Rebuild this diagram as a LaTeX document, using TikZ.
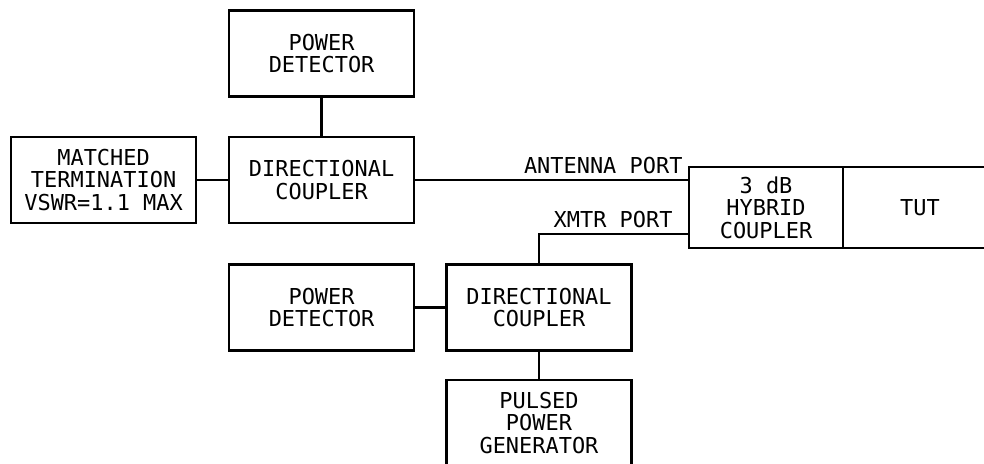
\documentclass[tikz,border=0pt]{standalone}
\usepackage{fontspec}
\setmonofont{DejaVu Sans Mono}
\usepackage{tikz}
\usetikzlibrary{positioning}

\begin{document}
\begin{tikzpicture}[
  every node/.style={font=\fontsize{15.6}{16}\selectfont\ttfamily},
  blk/.style={draw,line width=1.6pt,inner sep=0pt,outer sep=0pt,
              minimum width=4.625cm,minimum height=2.15cm,align=center},
  hyb/.style={blk,minimum width=3.85cm,minimum height=2.025cm},
  line width=1.6pt,
]
  \useasboundingbox (0,0) rectangle (24.6,-11.575);

  \node[blk] (pdtop) at (8.04,-1.34)   {POWER\\DETECTOR};
  \node[blk] (dctop) at (8.04,-4.5)    {DIRECTIONAL\\COUPLER};
  \node[blk] (term)  at (2.59,-4.5)    {MATCHED\\TERMINATION\\VSWR=1.1 MAX};
  \node[hyb] (hyb)   at (19.15,-5.19)  {3 dB\\HYBRID\\COUPLER};
  \node[hyb] (tut)   at (23.0,-5.19)   {TUT};
  \node[blk] (dcbot) at (13.475,-7.69) {DIRECTIONAL\\COUPLER};
  \node[blk] (pdbot) at (8.04,-7.69)   {POWER\\DETECTOR};
  \node[blk] (gen)   at (13.475,-10.575) {PULSED\\POWER\\GENERATOR};

  \tikzset{lb/.style={inner sep=1pt}}
  \coordinate (ant) at (dctop.east -| hyb.west);
  \coordinate (xmtr) at ([yshift=0.35cm]hyb.south west);

  \draw (term) -- (dctop);
  \draw (pdtop) -- (dctop);
  \draw (dctop) -- (ant);
  \node[lb,above left=0.1cm and 0.1cm of ant] (antlbl) {ANTENNA PORT};
  \draw (dcbot.north) |- (xmtr);
  \node[lb,above left=0.1cm and 0.35cm of xmtr] (xmtrlbl) {XMTR PORT};
  \draw (pdbot) -- (dcbot);
  \draw (dcbot) -- (gen);
\end{tikzpicture}
\end{document}
